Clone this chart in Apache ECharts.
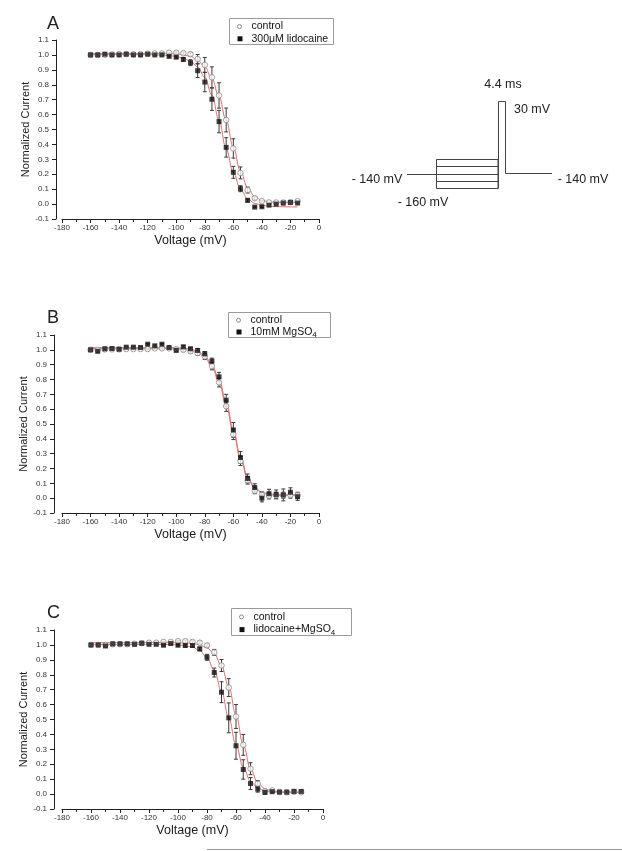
<!DOCTYPE html>
<html>
<head>
<meta charset="utf-8">
<script src="https://cdn.jsdelivr.net/npm/echarts@6/dist/echarts.min.js"></script>
<style>
html,body{margin:0;padding:0;background:#fff;}
#chart{width:622px;height:851px;}
</style>
</head>
<body>
<div id="chart"></div>
<script>
// ---------- data ----------
const voltage = [-160,-155,-150,-145,-140,-135,-130,-125,-120,-115,-110,-105,-100,-95,-90,-85,-80,-75,-70,-65,-60,-55,-50,-45,-40,-35,-30,-25,-20,-15];
const xTicks = [-180,-160,-140,-120,-100,-80,-60,-40,-20,0];
const yTicks = [-0.1,0.0,0.1,0.2,0.3,0.4,0.5,0.6,0.7,0.8,0.9,1.0,1.1];

// Panel A
const aControl    = [1.00,1.00,1.00,1.003,1.005,1.005,1.005,1.005,1.008,1.01,1.01,1.015,1.015,1.012,1.005,0.973,0.933,0.85,0.728,0.564,0.373,0.209,0.094,0.04,0.02,0.011,0.011,0.011,0.013,0.02];
const aControlErr = [0,0,0,0,0,0,0,0,0,0,0.005,0.005,0.005,0.008,0.012,0.03,0.05,0.07,0.085,0.08,0.065,0.04,0.02,0.01,0.005,0,0,0,0,0];
const aLido       = [1.00,1.00,1.005,1.00,1.00,1.005,1.00,1.00,1.005,1.00,1.00,0.99,0.985,0.97,0.948,0.894,0.818,0.703,0.553,0.38,0.213,0.103,0.025,-0.02,-0.018,-0.007,0.0,0.007,0.011,0.007];
const aLidoErr    = [0,0,0,0,0,0,0,0,0,0,0.005,0.005,0.008,0.012,0.02,0.045,0.065,0.075,0.075,0.065,0.04,0.02,0.01,0.005,0.005,0,0,0,0,0];
const aControlFit = [1.01,1.01,1.01,1.01,1.01,1.01,1.01,1.01,1.01,1.01,1.01,1.009,1.007,1.0,0.99,0.965,0.92,0.84,0.72,0.56,0.38,0.22,0.11,0.05,0.025,0.015,0.012,0.011,0.01,0.01];
const aLidoFit    = [1.003,1.003,1.003,1.003,1.003,1.003,1.003,1.002,1.002,1.0,0.998,0.995,0.99,0.978,0.958,0.92,0.85,0.73,0.56,0.37,0.21,0.1,0.035,0.005,-0.008,-0.014,-0.017,-0.018,-0.019,-0.019];

// Panel B
const bControl    = [1.0,1.0,1.003,1.003,1.003,1.005,1.005,1.005,1.005,1.01,1.01,1.01,1.005,1.0,0.99,0.978,0.955,0.89,0.78,0.62,0.43,0.25,0.12,0.05,0.022,0.015,0.02,0.02,0.02,0.02];
const bControlErr = [0,0.005,0.005,0.005,0.005,0.005,0.005,0.005,0.005,0.005,0.005,0.008,0.008,0.01,0.012,0.015,0.02,0.025,0.03,0.035,0.035,0.03,0.025,0.02,0.02,0.02,0.02,0.02,0.02,0.02];
const bMg         = [1.0,0.99,1.007,1.009,1.004,1.018,1.018,1.016,1.038,1.027,1.038,1.016,0.996,1.02,1.007,0.996,0.973,0.924,0.818,0.66,0.46,0.274,0.133,0.072,0.0,0.03,0.025,0.022,0.04,0.01];
const bMgErr      = [0,0.005,0.005,0.005,0.005,0.005,0.005,0.005,0.005,0.005,0.005,0.005,0.008,0.01,0.01,0.012,0.015,0.02,0.03,0.04,0.05,0.04,0.03,0.025,0.025,0.03,0.03,0.04,0.03,0.025];
const bControlFit = [1.008,1.008,1.008,1.008,1.008,1.008,1.008,1.008,1.008,1.008,1.008,1.008,1.007,1.004,0.995,0.98,0.95,0.885,0.78,0.625,0.44,0.265,0.135,0.065,0.035,0.025,0.02,0.02,0.02,0.02];
const bMgFit      = [1.015,1.015,1.015,1.015,1.015,1.015,1.015,1.015,1.015,1.015,1.015,1.015,1.014,1.012,1.005,0.99,0.96,0.9,0.8,0.65,0.46,0.28,0.145,0.07,0.04,0.028,0.024,0.022,0.021,0.02];

// Panel C
const cControl    = [1.0,1.0,1.0,1.005,1.005,1.005,1.008,1.012,1.015,1.015,1.02,1.02,1.025,1.025,1.02,1.015,0.997,0.95,0.862,0.714,0.52,0.33,0.17,0.07,0.02,0.025,0.015,0.012,0.015,0.013];
const cControlErr = [0,0,0,0,0,0,0,0,0,0,0.005,0.005,0.005,0.008,0.01,0.01,0.01,0.02,0.04,0.06,0.08,0.07,0.04,0.02,0.01,0.005,0,0,0,0];
const cLidoMg     = [1.0,1.0,0.993,1.007,1.007,1.007,1.004,1.011,1.004,1.004,0.998,1.009,0.998,0.996,0.996,0.973,0.917,0.815,0.683,0.511,0.324,0.165,0.071,0.033,0.011,0.016,0.013,0.013,0.018,0.018];
const cLidoMgErr  = [0,0,0,0,0,0,0,0,0,0,0.005,0.005,0.005,0.01,0.01,0.012,0.02,0.03,0.07,0.1,0.09,0.065,0.04,0.02,0.01,0.005,0,0,0,0];
const cControlFit = [1.015,1.015,1.015,1.015,1.015,1.015,1.015,1.015,1.015,1.015,1.015,1.015,1.015,1.013,1.01,1.0,0.98,0.94,0.86,0.72,0.53,0.33,0.17,0.075,0.035,0.02,0.015,0.013,0.013,0.013];
const cLidoMgFit  = [1.003,1.003,1.003,1.003,1.003,1.003,1.003,1.003,1.003,1.003,1.003,1.003,1.0,0.995,0.985,0.962,0.915,0.83,0.69,0.51,0.33,0.18,0.085,0.04,0.02,0.014,0.012,0.012,0.012,0.012];

const panels = [
  {letter:'A', names:['control','300μM lidocaine'], ctrl:aControl, ctrlErr:aControlErr, trt:aLido, trtErr:aLidoErr, ctrlFit:aControlFit, trtFit:aLidoFit},
  {letter:'B', names:['control','10mM MgSO4'], ctrl:bControl, ctrlErr:bControlErr, trt:bMg, trtErr:bMgErr, ctrlFit:bControlFit, trtFit:bMgFit},
  {letter:'C', names:['control','lidocaine+MgSO4'], ctrl:cControl, ctrlErr:cControlErr, trt:cLidoMg, trtErr:cLidoMgErr, ctrlFit:cControlFit, trtFit:cLidoMgFit}
];

// ---------- layout ----------
const FONT = 'Liberation Sans, Arial, sans-serif';
const grids = [
  {left:62, top:40, width:257, height:179, yOff:6, legend:{l:229, t:18, w:104, h:26}, letter:[47,15]},
  {left:62, top:335, width:257, height:178, yOff:8, legend:{l:228, t:312, w:102, h:25}, letter:[47,309]},
  {left:62, top:630, width:261, height:179, yOff:8, legend:{l:231, t:608, w:120, h:27}, letter:[47,604]}
];

const chart = echarts.init(document.getElementById('chart'), null, {renderer:'canvas'});

function errRender(params, api){
  const x = api.value(0), lo = api.value(1), hi = api.value(2);
  const p1 = api.coord([x, hi]), p2 = api.coord([x, lo]);
  const w = 2;
  const st = {stroke:'#3a3a3a', lineWidth:1};
  return {type:'group', children:[
    {type:'line', shape:{x1:p1[0],y1:p1[1],x2:p2[0],y2:p2[1]}, style:st},
    {type:'line', shape:{x1:p1[0]-w,y1:p1[1],x2:p1[0]+w,y2:p1[1]}, style:st},
    {type:'line', shape:{x1:p2[0]-w,y1:p2[1],x2:p2[0]+w,y2:p2[1]}, style:st}
  ]};
}
function errData(y, e){
  const out = [];
  voltage.forEach((v,i)=>{ if(e[i]>0) out.push([v, y[i]-e[i], y[i]+e[i]]); });
  return out;
}
function pts(y){ return voltage.map((v,i)=>[v,y[i]]); }

const option = {
  animation:false,
  backgroundColor:'#fff',
  textStyle:{fontFamily:FONT},
  grid:[], xAxis:[], yAxis:[], series:[], graphic:[]
};

const FIT_COLOR = '#e0706e';
const CTRL_STROKE = '#8a8a8a';
const ctrlStyle = {color:'#ffffff', borderColor:CTRL_STROKE, borderWidth:1};
const trtStyle = {color:'#111111'};

panels.forEach((p, k)=>{
  const g = grids[k];
  option.grid.push({left:g.left, top:g.top, width:g.width, height:g.height, containLabel:false});
  option.xAxis.push({
    gridIndex:k, type:'value', min:xTicks[0], max:xTicks[xTicks.length-1], interval:20,
    name:'Voltage (mV)', nameLocation:'middle', nameGap:15,
    nameTextStyle:{fontSize:12.5, color:'#1a1a1a', fontFamily:FONT},
    axisLine:{onZero:false, lineStyle:{color:'#222', width:1}},
    axisTick:{show:true, inside:false, length:4, lineStyle:{color:'#222'}},
    minorTick:{show:true, splitNumber:2, length:3, lineStyle:{color:'#222'}},
    axisLabel:{fontSize:8, color:'#333', margin:5, fontFamily:FONT},
    splitLine:{show:false}
  });
  option.yAxis.push({
    gridIndex:k, type:'value', min:yTicks[0], max:yTicks[yTicks.length-1], interval:0.1,
    offset:g.yOff,
    name:'Normalized Current', nameLocation:'middle', nameGap:24,
    nameTextStyle:{fontSize:11, color:'#1a1a1a', fontFamily:FONT},
    axisLine:{show:true, onZero:false, lineStyle:{color:'#222', width:1}},
    axisTick:{show:true, inside:false, length:4, lineStyle:{color:'#222'}},
    axisLabel:{fontSize:8, color:'#333', margin:7, fontFamily:FONT, formatter:v=>v.toFixed(1)},
    splitLine:{show:false}
  });
  // fits
  option.series.push({type:'line', xAxisIndex:k, yAxisIndex:k, data:pts(p.ctrlFit), smooth:0.4, smoothMonotone:'x', showSymbol:false, lineStyle:{color:FIT_COLOR, width:1}, z:1, silent:true});
  option.series.push({type:'line', xAxisIndex:k, yAxisIndex:k, data:pts(p.trtFit), smooth:0.4, smoothMonotone:'x', showSymbol:false, lineStyle:{color:FIT_COLOR, width:1}, z:1, silent:true});
  // error bars
  option.series.push({type:'custom', xAxisIndex:k, yAxisIndex:k, renderItem:errRender, data:errData(p.ctrl,p.ctrlErr), encode:{x:0,y:[1,2]}, z:2, silent:true});
  option.series.push({type:'custom', xAxisIndex:k, yAxisIndex:k, renderItem:errRender, data:errData(p.trt,p.trtErr), encode:{x:0,y:[1,2]}, z:2, silent:true});
  // markers
  option.series.push({type:'scatter', name:p.names[0], xAxisIndex:k, yAxisIndex:k, data:pts(p.ctrl), symbol:'circle', symbolSize:5.5, itemStyle:ctrlStyle, z:3});
  option.series.push({type:'scatter', name:p.names[1], xAxisIndex:k, yAxisIndex:k, data:pts(p.trt), symbol:'rect', symbolSize:5, itemStyle:trtStyle, z:4});

  // legend box (drawn as graphic for exact Origin-style look)
  const L = g.legend;
  const y1 = L.t + L.h*0.33, y2 = L.t + L.h*0.8;
  const textStyle = (t, y)=>({type:'text', x:L.l+22.5, y:y, style:{
      text:t.replace('MgSO4','MgSO{sub|4}'), font:'10.5px '+FONT, fill:'#111', verticalAlign:'middle',
      rich:{sub:{fontSize:8, padding:[6,0,0,0], fill:'#111', fontFamily:FONT}}}});
  option.graphic.push(
    {type:'rect', shape:{x:L.l+0.5, y:L.t+0.5, width:L.w, height:L.h}, style:{fill:'#fff', stroke:'#9a9a9a', lineWidth:1}, z:10},
    {type:'circle', shape:{cx:L.l+10.5, cy:y1, r:2}, style:{fill:'#fff', stroke:CTRL_STROKE, lineWidth:1}, z:11},
    {type:'rect', shape:{x:L.l+8.5, y:y2-2.5, width:5, height:5}, style:{fill:'#111'}, z:11},
    Object.assign(textStyle(p.names[0], y1), {z:11}),
    Object.assign(textStyle(p.names[1], y2), {z:11})
  );
  // panel letter
  option.graphic.push({type:'text', left:g.letter[0], top:g.letter[1], style:{text:p.letter, font:'18px '+FONT, fill:'#222'}});
});

// voltage protocol diagram (panel A, right)
const pst = {stroke:'#444', lineWidth:1, fill:null};
option.graphic.push(
  {type:'polyline', shape:{points:[[407,174.5],[498,174.5]]}, style:pst},
  {type:'rect', shape:{x:436.5, y:159.5, width:61.5, height:29}, style:pst},
  {type:'polyline', shape:{points:[[436.5,166.5],[498,166.5]]}, style:pst},
  {type:'polyline', shape:{points:[[436.5,181.5],[498,181.5]]}, style:pst},
  {type:'polyline', shape:{points:[[498.5,188.5],[498.5,101.5],[505.5,101.5],[505.5,173.5],[552,173.5]]}, style:pst},
  {type:'text', x:503, y:85, style:{text:'4.4 ms', font:'12.5px '+FONT, fill:'#222', align:'center', verticalAlign:'middle'}},
  {type:'text', x:532, y:110, style:{text:'30 mV', font:'12.5px '+FONT, fill:'#222', align:'center', verticalAlign:'middle'}},
  {type:'text', x:377, y:180, style:{text:'- 140 mV', font:'12.5px '+FONT, fill:'#222', align:'center', verticalAlign:'middle'}},
  {type:'text', x:423, y:203, style:{text:'- 160 mV', font:'12.5px '+FONT, fill:'#222', align:'center', verticalAlign:'middle'}},
  {type:'text', x:583, y:180, style:{text:'- 140 mV', font:'12.5px '+FONT, fill:'#222', align:'center', verticalAlign:'middle'}},
  {type:'line', shape:{x1:207, y1:849.5, x2:622, y2:849.5}, style:{stroke:'#999', lineWidth:1}}
);

chart.setOption(option);
</script>
</body>
</html>
